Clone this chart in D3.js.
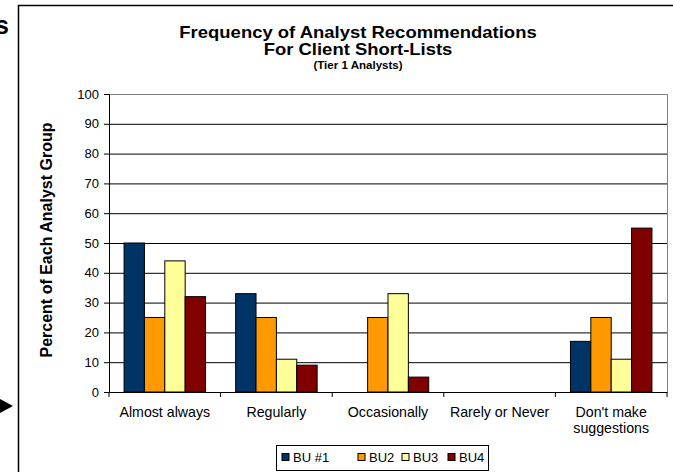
<!DOCTYPE html>
<html>
<head>
<meta charset="utf-8">
<script src="https://cdn.jsdelivr.net/npm/d3@7"></script>
<style>
  body { margin: 0; background: #fff; }
  svg { display: block; font-family: "Liberation Sans", Arial, sans-serif; }
</style>
</head>
<body>
<div id="body"></div>
<script>
// data
var categories = ["Almost always", "Regularly", "Occasionally", "Rarely or Never", "Don't make suggestions"];
var seriesNames = ["BU #1", "BU2", "BU3", "BU4"];
var bu1 = [50, 33, 0, 0, 17];
var bu2 = [25, 25, 25, 0, 25];
var bu3 = [44, 11, 33, 0, 11];
var bu4 = [32, 9, 5, 0, 55];
var yTicks = [0, 10, 20, 30, 40, 50, 60, 70, 80, 90, 100];

var seriesValues = [bu1, bu2, bu3, bu4];
var colors = ["#003366", "#FF9900", "#FFFF99", "#800000"];

var width = 673, height = 472;
var plot = {left: 109, right: 667, top: 94, bottom: 392};

var svg = d3.select("#body").append("svg")
    .attr("width", width)
    .attr("height", height);

// outer chart frame (goes past the picture's edges)
svg.append("path")
    .attr("d", "M18.5," + height + " V5.5 H" + width)
    .attr("fill", "none")
    .attr("stroke", "#000")
    .attr("stroke-width", 1.5);

// bits of the slide around the chart
svg.append("text")
    .attr("x", 9).attr("y", 34)
    .attr("text-anchor", "end")
    .attr("font-size", 25)
    .attr("font-weight", "bold")
    .text("s");
svg.append("path")
    .attr("d", "M0,399 L13,406 L0,413 Z")
    .attr("fill", "#000");

// titles (the original text is a little wide, so stretch it sideways)
var cx = 358;
function titleLine(txt, y, size, sx) {
    svg.append("text")
        .attr("transform", "translate(" + cx + "," + y + ") scale(" + sx + ",1)")
        .attr("text-anchor", "middle")
        .attr("font-size", size)
        .attr("font-weight", "bold")
        .text(txt);
}
titleLine("Frequency of Analyst Recommendations", 37.5, 16.5, 1.12);
titleLine("For Client Short-Lists", 55, 16.5, 1.12);
titleLine("(Tier 1 Analysts)", 68.5, 11, 1.05);

// scales
var x0 = d3.scaleBand()
    .domain(categories)
    .range([plot.left, plot.right])
    .paddingInner(0.27)
    .paddingOuter(0.135);

var x1 = d3.scaleBand()
    .domain(seriesNames)
    .range([0, x0.bandwidth()])
    .padding(0);

var yScale = d3.scaleLinear()
    .domain([0, 100])
    .range([plot.bottom, plot.top]);

// gridlines
var grid = svg.append("g")
    .attr("transform", "translate(" + plot.left + ",0)")
    .call(d3.axisLeft(yScale).tickValues(yTicks.slice(1)).tickSize(-(plot.right - plot.left)).tickFormat(""));
grid.select(".domain").remove();
grid.selectAll("line").attr("stroke", "#000").attr("stroke-width", 1);
grid.selectAll(".tick:last-of-type line").attr("stroke", "#808080");

// right border of the plot
svg.append("line")
    .attr("x1", plot.right + 0.5).attr("x2", plot.right + 0.5)
    .attr("y1", plot.top).attr("y2", plot.bottom)
    .attr("stroke", "#808080");

// bars
var groups = svg.selectAll(".grp")
    .data(categories)
    .enter()
    .append("g")
    .attr("class", "grp")
    .attr("transform", function(d) { return "translate(" + x0(d) + ",0)"; });

groups.selectAll("rect")
    .data(function(d, i) {
        return seriesNames.map(function(s, j) { return {name: s, value: seriesValues[j][i], idx: j}; });
    })
    .enter()
    .append("rect")
    .filter(function(d) { return d.value > 0; })
    .attr("x", function(d) { return x1(d.name); })
    .attr("y", function(d) { return yScale(d.value); })
    .attr("width", x1.bandwidth())
    .attr("height", function(d) { return plot.bottom - yScale(d.value); })
    .attr("fill", function(d) { return colors[d.idx]; })
    .attr("stroke", "#000")
    .attr("stroke-width", 1);

// y axis
var yAxis = svg.append("g")
    .attr("transform", "translate(" + plot.left + ",0)")
    .call(d3.axisLeft(yScale).tickValues(yTicks).tickSize(5).tickPadding(5));
yAxis.select(".domain").attr("stroke", "#000");
yAxis.selectAll("text").attr("font-size", 13).attr("fill", "#000")
    .attr("font-family", "'Liberation Sans', Arial, sans-serif");

// x axis
var xAxis = svg.append("g")
    .attr("transform", "translate(0," + plot.bottom + ")")
    .call(d3.axisBottom(x0).tickSize(0).tickPadding(12));
xAxis.select(".domain").attr("stroke", "#000");
xAxis.selectAll("text").remove();

// tick marks between the categories
var step = x0.step();
var seps = d3.range(categories.length + 1).map(function(i) { return plot.left + i * step; });
svg.selectAll(".sep")
    .data(seps)
    .enter()
    .append("line")
    .attr("x1", function(d) { return d; }).attr("x2", function(d) { return d; })
    .attr("y1", plot.bottom).attr("y2", plot.bottom + 5)
    .attr("stroke", "#000");

// category labels, wrapped the way Excel did
var catLines = [["Almost always"], ["Regularly"], ["Occasionally"], ["Rarely or Never"], ["Don't make", "suggestions"]];
svg.selectAll(".cat")
    .data(categories)
    .enter()
    .append("text")
    .attr("class", "cat")
    .attr("text-anchor", "middle")
    .attr("font-size", 14.2)
    .each(function(d, i) {
        var t = d3.select(this);
        catLines[i].forEach(function(line, k) {
            t.append("tspan")
                .attr("x", x0(d) + x0.bandwidth() / 2)
                .attr("y", 417 + k * 16)
                .text(line);
        });
    });

// y title
svg.append("text")
    .attr("transform", "translate(52," + ((plot.top + plot.bottom) / 2 - 3) + ") rotate(-90)")
    .attr("text-anchor", "middle")
    .attr("font-size", 16)
    .attr("font-weight", "bold")
    .text("Percent of Each Analyst Group");

// legend
var legend = svg.append("g").attr("transform", "translate(276,445)");
legend.append("rect")
    .attr("x", 0.5).attr("y", 0.5)
    .attr("width", 212).attr("height", 25)
    .attr("fill", "#fff")
    .attr("stroke", "#000");
var legendX = [6, 82, 126, 172];
var items = legend.selectAll(".item")
    .data(seriesNames)
    .enter()
    .append("g")
    .attr("transform", function(d, i) { return "translate(" + legendX[i] + ",0)"; });
items.append("rect")
    .attr("x", 0).attr("y", 8.5)
    .attr("width", 7).attr("height", 7)
    .attr("fill", function(d, i) { return colors[i]; })
    .attr("stroke", "#000");
items.append("text")
    .attr("x", 11).attr("y", 17)
    .attr("font-size", 13)
    .text(function(d) { return d; });
</script>
</body>
</html>
